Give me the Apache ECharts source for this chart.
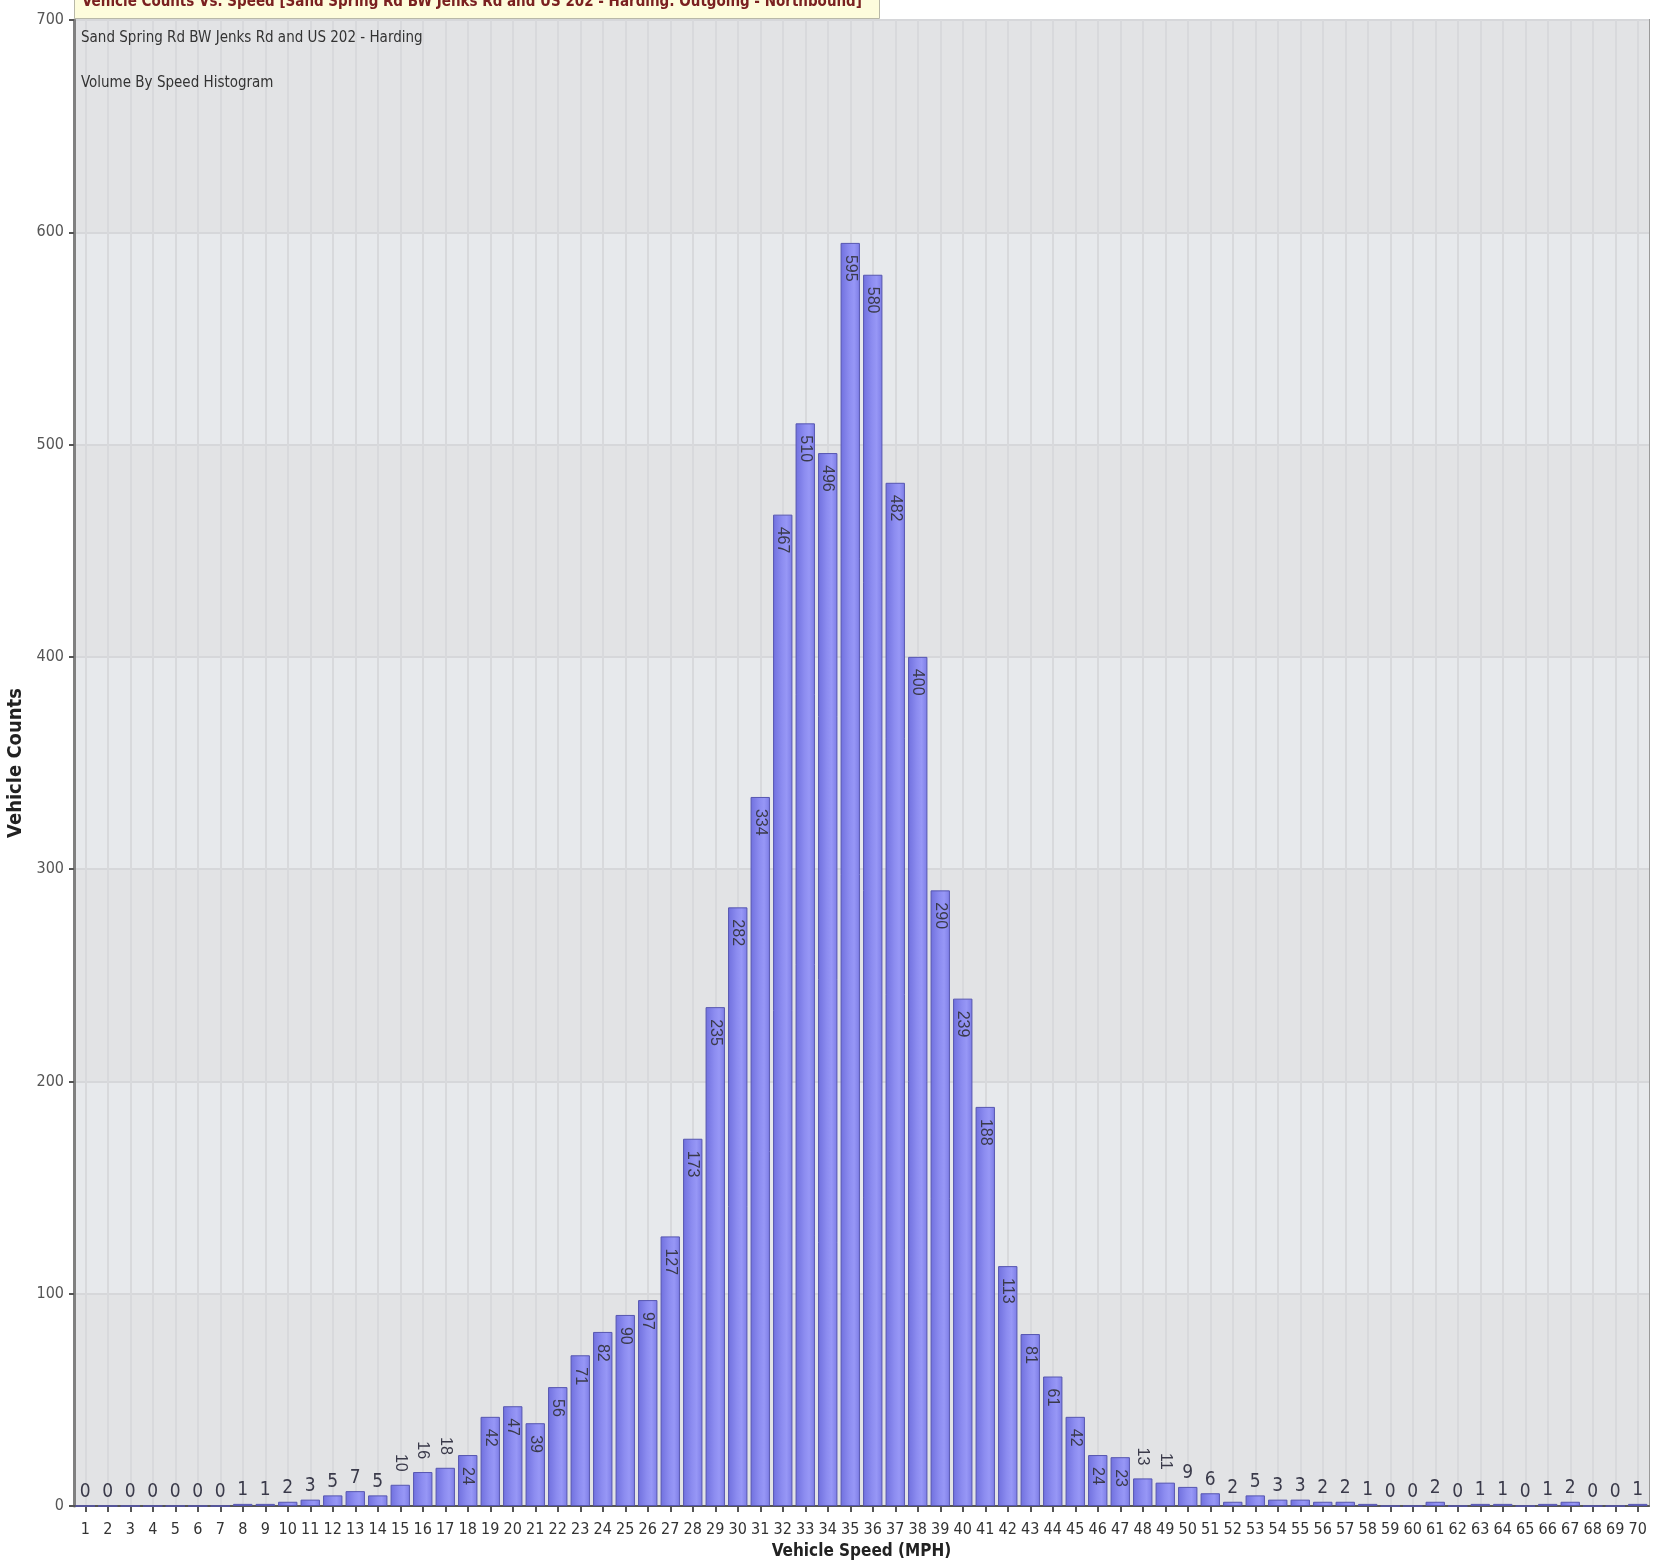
<!DOCTYPE html>
<html>
<head>
<meta charset="utf-8">
<script src="https://cdn.jsdelivr.net/npm/echarts@6/dist/echarts.min.js"></script>
<style>
html,body{margin:0;padding:0;background:#fff;}
#chart{width:1657px;height:1561px;}
</style>
</head>
<body>
<div id="chart"></div>
<script>
const speeds = [];
for (let s = 1; s <= 70; s++) speeds.push(String(s));
const counts = [0,0,0,0,0,0,0,1,1,2, 3,5,7,5,10,16,18,24,42,47, 39,56,71,82,90,97,127,173,235,282, 334,467,510,496,595,580,482,400,290,239, 188,113,81,61,42,24,23,13,11,9, 6,2,5,3,3,2,2,1,0,0, 2,0,1,1,0,1,2,0,0,1];
const yTicks = [0,100,200,300,400,500,600,700];
const chartTitle = 'Vehicle Counts Vs. Speed [Sand Spring Rd BW Jenks Rd and US 202 - Harding: Outgoing - Northbound]';
const subTitle1 = 'Sand Spring Rd BW Jenks Rd and US 202 - Harding';
const subTitle2 = 'Volume By Speed Histogram';
const xName = 'Vehicle Speed (MPH)';
const yName = 'Vehicle Counts';

const NARROW = "'DejaVu Sans Condensed',sans-serif";
const ARIAL = "'Liberation Sans',Arial,sans-serif";

function labelFor(v) {
  if (v >= 20) return {show:true, position:'insideTop', rotate:-90, align:'left', verticalAlign:'middle', distance:12, fontFamily:ARIAL, fontSize:16, color:'#3a3a4a'};
  if (v >= 10) return {show:true, position:'top', rotate:-90, align:'right', verticalAlign:'middle', distance:13, fontFamily:ARIAL, fontSize:16, color:'#3a3a4a'};
  return {show:true, position:'top', rotate:0, distance:4, fontFamily:NARROW, fontSize:19, color:'#3a3a4a'};
}

const barData = counts.map(v => ({value: v, label: labelFor(v)}));

const chart = echarts.init(document.getElementById('chart'), null, {renderer:'canvas'});
chart.setOption({
  animation:false,
  backgroundColor:'#ffffff',
  grid:{left:74, right:8, top:20, bottom:55, outerBoundsMode:'none', containLabel:false, show:true, backgroundColor:'transparent', borderColor:'#9a9a9a', borderWidth:2},
  graphic:[
    {type:'rect', left:74, top:-12, shape:{width:805, height:30}, style:{fill:'#fdfcdc', stroke:'#b8b8a8', lineWidth:1}, z:10},
    {type:'text', left:82, top:-5, style:{text:chartTitle, fill:'#7a2020', font:"bold 15px 'DejaVu Sans Condensed',sans-serif"}, z:11},
    {type:'text', left:81, top:31, style:{text:subTitle1, fill:'#333333', font:"15px 'DejaVu Sans Condensed',sans-serif"}, z:11},
    {type:'text', left:81, top:76, style:{text:subTitle2, fill:'#333333', font:"15px 'DejaVu Sans Condensed',sans-serif"}, z:11}
  ],
  xAxis:{
    type:'category', data:speeds, boundaryGap:true,
    name:xName, nameLocation:'middle', nameGap:36,
    nameTextStyle:{fontFamily:NARROW, fontWeight:'bold', fontSize:17, color:'#222'},
    axisLine:{show:true, lineStyle:{color:'#555', width:2}},
    axisTick:{show:true, alignWithLabel:true, length:6, lineStyle:{color:'#555', width:2}},
    axisLabel:{interval:0, margin:16, fontFamily:NARROW, fontSize:16, color:'#333'},
    splitLine:{show:true, alignWithLabel:true, interval:0, lineStyle:{color:'#d8d9dc', width:2}}
  },
  yAxis:{
    type:'value', min:0, max:700, interval:100,
    name:yName, nameLocation:'middle', nameGap:40, nameRotate:90,
    nameTextStyle:{fontFamily:NARROW, fontWeight:'bold', fontSize:20, color:'#222'},
    axisLine:{show:true, lineStyle:{color:'#808080', width:3}},
    axisTick:{show:true, length:5, lineStyle:{color:'#555', width:2}},
    axisLabel:{margin:10, fontFamily:NARROW, fontSize:16, color:'#555'},
    splitLine:{show:true, lineStyle:{color:'#d6d7da', width:2}},
    splitArea:{show:true, areaStyle:{color:['#e2e3e5','#e7e9ec']}}
  },
  series:[{
    type:'bar', data:barData, barCategoryGap:'14%',
    itemStyle:{
      color:new echarts.graphic.LinearGradient(0,0,1,0,[
        {offset:0, color:'#7070de'},
        {offset:0.45, color:'#8c8cf0'},
        {offset:0.7, color:'#9797f6'},
        {offset:1, color:'#7c7ce6'}
      ]),
      borderColor:'#5656b0', borderWidth:1
    }
  }]
});
</script>
</body>
</html>
